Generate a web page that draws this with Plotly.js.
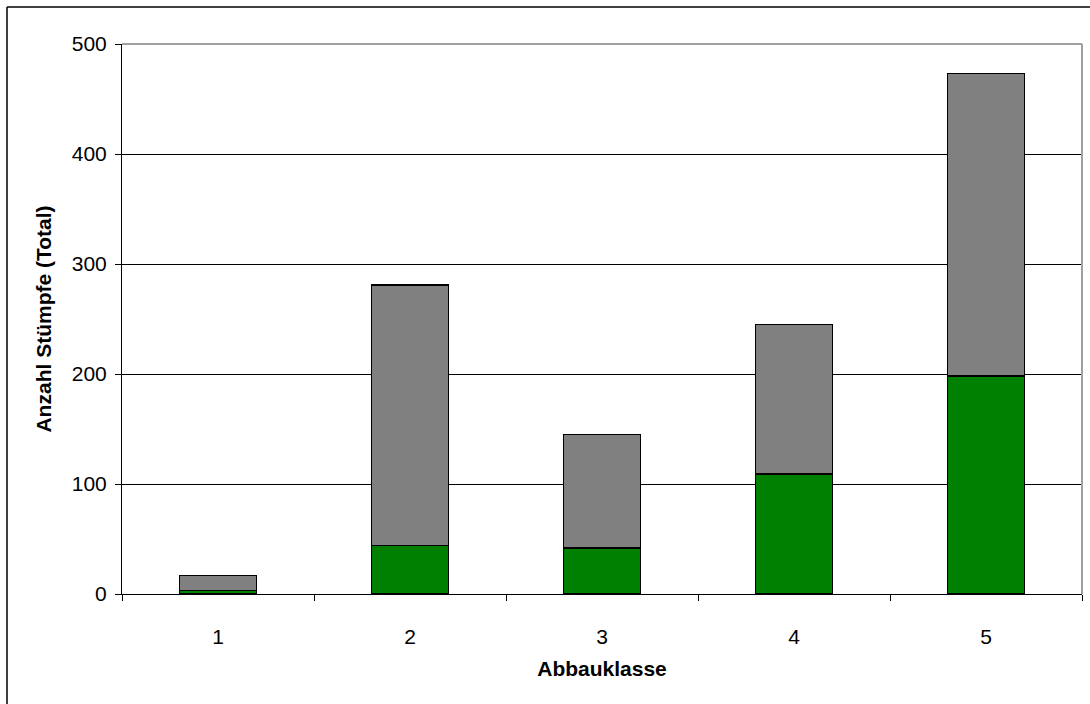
<!DOCTYPE html>
<html>
<head>
<meta charset="utf-8">
<script src="https://cdn.plot.ly/plotly-3.0.1.min.js"></script>
<style>html,body{margin:0;padding:0;background:#fff;}#chart{width:1090px;height:704px;}</style>
</head>
<body>
<div id="chart"></div>
<script>
const categories = ['1', '2', '3', '4', '5'];
const greenValues = [3, 44, 42, 109, 198];
const grayValues = [14, 237, 103, 136, 275];
const yTicks = [0, 100, 200, 300, 400, 500];

const W = 1090, H = 704;
const L = 122, R = 8, T = 44, B = 110;
const pw = W - L - R, ph = H - T - B;
function px(x) { return (x - L) / pw; }
function py(y) { return (H - B - y) / ph; }

const traces = [
  {type: 'bar', x: categories, y: greenValues, name: 'green',
   marker: {color: '#008000', line: {color: '#000', width: 1.5}}, hoverinfo: 'skip'},
  {type: 'bar', x: categories, y: grayValues, name: 'gray',
   marker: {color: '#808080', line: {color: '#000', width: 1.5}}, hoverinfo: 'skip'}
];

const layout = {
  width: W, height: H,
  margin: {l: L, r: R, t: T, b: B, pad: 0},
  paper_bgcolor: '#fff', plot_bgcolor: '#fff',
  barmode: 'stack', bargap: 0.6, showlegend: false,
  font: {family: 'Liberation Sans, Arial, sans-serif', color: '#000', size: 22},
  xaxis: {
    type: 'category', tickson: 'boundaries', ticks: 'outside', ticklen: 6, tickcolor: '#000',
    showline: true, linecolor: '#000', linewidth: 1, showgrid: false, zeroline: false,
    tickfont: {size: 21}, ticklabelstandoff: 24,
    title: {text: '<b>Abbauklasse</b>', font: {size: 21}, standoff: 14}
  },
  yaxis: {
    range: [0, 500], tickvals: yTicks, ticks: 'outside', ticklen: 6, tickcolor: '#000',
    showline: true, linecolor: '#000', linewidth: 1, showgrid: true, gridcolor: '#000', gridwidth: 1,
    zeroline: false, tickfont: {size: 21}, ticklabelstandoff: 4,
    title: {text: '<b>Anzahl Stümpfe (Total)</b>', font: {size: 21}, standoff: 14}
  },
  shapes: [
    {type: 'line', xref: 'paper', yref: 'paper', x0: 1, x1: 1, y0: 0, y1: 1,
     line: {color: '#a0a0a0', width: 2}},
    {type: 'line', xref: 'paper', yref: 'paper', x0: 0, x1: 1, y0: 1, y1: 1,
     line: {color: '#a0a0a0', width: 2}, layer: 'below'},
    {type: 'line', xref: 'paper', yref: 'paper', x0: px(7), x1: px(1095), y0: py(7), y1: py(7),
     line: {color: '#000', width: 1.5}},
    {type: 'line', xref: 'paper', yref: 'paper', x0: px(7), x1: px(7), y0: py(7), y1: py(710),
     line: {color: '#000', width: 1.5}}
  ]
};

Plotly.newPlot('chart', traces, layout, {displayModeBar: false, staticPlot: true});
</script>
</body>
</html>
